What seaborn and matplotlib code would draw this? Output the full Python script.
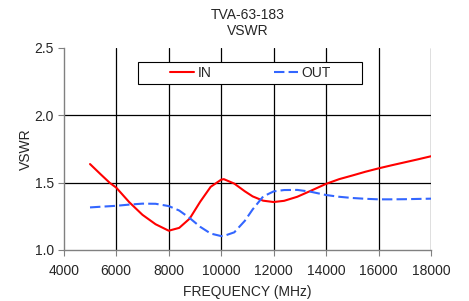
import matplotlib
matplotlib.use("Agg")
import matplotlib.pyplot as plt
from matplotlib.patches import Rectangle
import seaborn as sns
import pandas as pd

# values
freq = [5000, 5400, 5750, 6000, 6500, 7000, 7500, 8000, 8400, 8800, 9200,
        9600, 10000, 10100, 10500, 10900, 11200, 11600, 12000, 12400, 12900,
        13400, 14000, 14500, 15000, 15500, 16000, 16500, 17000, 17500, 18000]
vswr_in = [1.637, 1.562, 1.498, 1.462, 1.353, 1.26, 1.19, 1.142, 1.163, 1.232,
           1.357, 1.468, 1.521, 1.525, 1.492, 1.435, 1.397, 1.365, 1.355,
           1.364, 1.394, 1.437, 1.49, 1.525, 1.552, 1.58, 1.605, 1.628, 1.65,
           1.672, 1.695]
vswr_out = [1.315, 1.32, 1.324, 1.327, 1.336, 1.343, 1.342, 1.325, 1.292,
            1.236, 1.171, 1.121, 1.102, 1.103, 1.13, 1.215, 1.30, 1.396,
            1.434, 1.444, 1.445, 1.432, 1.407, 1.394, 1.385, 1.379, 1.375,
            1.375, 1.376, 1.378, 1.38]
x_ticks = [4000, 6000, 8000, 10000, 12000, 14000, 16000, 18000]
y_ticks = [1.0, 1.5, 2.0, 2.5]

df = pd.DataFrame({"freq": freq, "IN": vswr_in, "OUT": vswr_out})

sns.set_style("white")
plt.rcParams["font.family"] = ["Liberation Sans", "DejaVu Sans"]

fig = plt.figure(figsize=(4.69, 3.01), dpi=100)
ax = fig.add_axes([0.136, 0.170, 0.783, 0.671])

sns.lineplot(data=df, x="freq", y="IN", color="#ff0000", linewidth=1.5,
             label="IN", ax=ax)
sns.lineplot(data=df, x="freq", y="OUT", color="#3366ff", linewidth=1.5,
             label="OUT", ax=ax)
ax.lines[1].set_dashes([5, 2])

ax.set_xlim(4000, 18000)
ax.set_ylim(1.0, 2.5)
ax.set_xticks(x_ticks)
ax.set_yticks(y_ticks)
ax.set_yticklabels([f"{v:.1f}" for v in y_ticks])

# grid lines like the original (vertical at every tick, horizontal at 1.5 and 2.0)
for xv in x_ticks[1:]:
    ax.axvline(xv, color="black", linewidth=0.9, zorder=0)
for yv in [1.5, 2.0]:
    ax.axhline(yv, color="black", linewidth=0.9, zorder=0)

for s in ["top", "right"]:
    ax.spines[s].set_visible(False)
for s in ["left", "bottom"]:
    ax.spines[s].set_color("#808080")
    ax.spines[s].set_linewidth(1.0)

ax.tick_params(axis="both", labelsize=10, length=4, color="#808080",
               direction="out", bottom=True, left=True)
ax.tick_params(axis="x", pad=6)
ax.tick_params(axis="y", pad=3)
ax.set_xlabel("FREQUENCY (MHz)", fontsize=10, labelpad=5)
ax.set_ylabel("VSWR", fontsize=10, labelpad=1.5)
ax.set_title("TVA-63-183\nVSWR", fontsize=10, pad=9, linespacing=1.2)

# legend box drawn as in the original, entries placed inside it
ax.add_patch(Rectangle((0.2016, 0.82), 0.61, 0.11, transform=ax.transAxes,
                       facecolor="white", edgecolor="black", linewidth=0.8,
                       zorder=4))
leg = ax.legend(loc="center left", bbox_to_anchor=(0.289, 0.875), ncol=2,
                fontsize=10, frameon=False, handlelength=1.75,
                handletextpad=0.22, columnspacing=4.5, borderpad=0,
                borderaxespad=0)
leg.set_zorder(5)

fig.savefig("out.png", dpi=100)
